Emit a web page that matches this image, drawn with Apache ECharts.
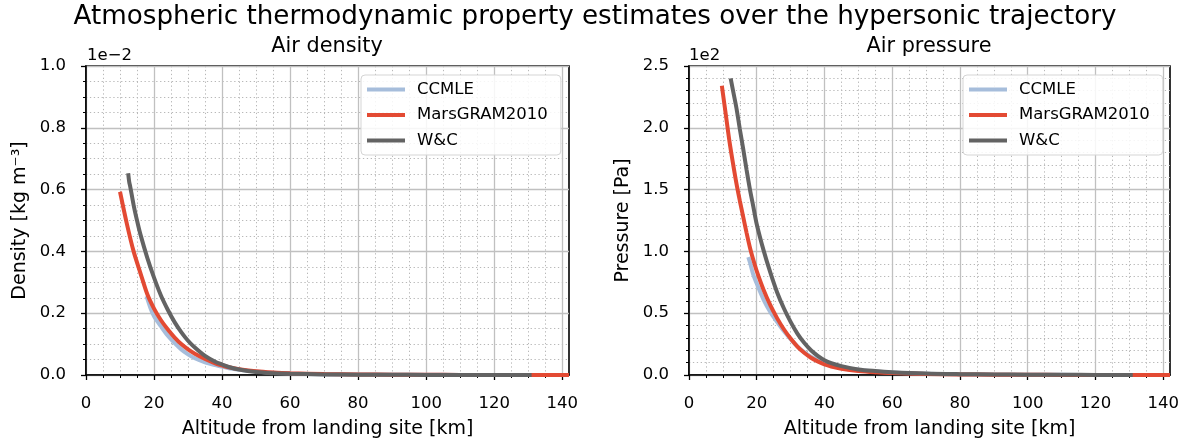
<!DOCTYPE html>
<html><head><meta charset="utf-8">
<script src="https://cdn.jsdelivr.net/npm/echarts@6/dist/echarts.min.js"></script>
<style>html,body{margin:0;padding:0;background:#fff}#c{width:1190px;height:444px}</style>
</head><body><div id="c"></div>
<script>
// ---- tick labels ----
const xMajorTicks = [0, 20, 40, 60, 80, 100, 120, 140];
const xMinorTicks = [5, 10, 15, 25, 30, 35, 45, 50, 55, 65, 70, 75, 85, 90, 95, 105, 110, 115, 125, 130, 135];
const seriesNames = ['CCMLE', 'MarsGRAM2010', 'W&C'];

// ---- Air density (x1e-2 kg m^-3) ----
const densCCMLEAlt = [17.8, 19, 20, 22, 24, 26, 28, 30, 32, 35, 38, 40, 42, 45, 50, 55, 60, 70, 80, 90, 100, 110, 120, 125];
const densCCMLE    = [0.255, 0.215, 0.19, 0.158, 0.128, 0.104, 0.083, 0.067, 0.054, 0.041, 0.032, 0.027, 0.022, 0.017, 0.011, 0.007, 0.005, 0.0025, 0.0015, 0.001, 0.0006, 0.0004, 0.0002, 0.0001];
const densMarsAlt  = [10, 12, 14, 16, 18, 20, 22, 24, 26, 28, 30, 32, 35, 38, 40, 42, 45, 50, 55, 60, 70, 80, 90, 100, 110, 120, 130, 142];
const densMars     = [0.593, 0.49, 0.40, 0.33, 0.262, 0.215, 0.178, 0.148, 0.122, 0.100, 0.083, 0.069, 0.052, 0.038, 0.031, 0.025, 0.019, 0.012, 0.008, 0.0055, 0.003, 0.002, 0.0012, 0.0007, 0.0004, 0.0002, 0.0001, 0.00005];
const densWCAlt    = [12.4, 12.7, 13, 14, 15, 16, 18, 20, 22, 24, 26, 28, 30, 32, 35, 38, 40, 42, 45, 50, 55, 60, 70, 80, 90, 100, 110, 120, 131];
const densWC       = [0.653, 0.625, 0.61, 0.55, 0.50, 0.455, 0.38, 0.315, 0.258, 0.212, 0.172, 0.139, 0.111, 0.089, 0.062, 0.043, 0.034, 0.026, 0.018, 0.010, 0.006, 0.004, 0.002, 0.001, 0.0006, 0.0003, 0.0002, 0.0001, 0.00005];

// ---- Air pressure (x1e2 Pa) ----
const presCCMLEAlt = [17.5, 18, 19, 20, 22, 24, 26, 28, 30, 32, 34, 36, 38, 40, 42, 45, 50, 55, 60, 70, 80, 90, 100, 110, 120, 125];
const presCCMLE    = [0.953, 0.91, 0.81, 0.74, 0.61, 0.51, 0.43, 0.355, 0.29, 0.232, 0.185, 0.148, 0.12, 0.098, 0.08, 0.063, 0.042, 0.028, 0.02, 0.01, 0.006, 0.0035, 0.002, 0.0012, 0.0007, 0.0005];
const presMarsAlt  = [9.7, 11, 12, 13, 14, 15, 16, 17, 18, 19, 20, 22, 24, 26, 28, 30, 32, 34, 36, 38, 40, 42, 45, 50, 55, 60, 70, 80, 90, 100, 110, 120, 130, 142];
const presMars     = [2.34, 2.08, 1.88, 1.71, 1.55, 1.41, 1.28, 1.15, 1.03, 0.93, 0.84, 0.69, 0.565, 0.46, 0.37, 0.295, 0.23, 0.18, 0.14, 0.11, 0.085, 0.068, 0.05, 0.032, 0.022, 0.016, 0.009, 0.005, 0.003, 0.0018, 0.001, 0.0006, 0.0003, 0.0002];
const presWCAlt    = [12.3, 13, 14, 15, 16, 17, 18, 19, 20, 22, 24, 26, 28, 30, 32, 34, 36, 38, 40, 42, 45, 50, 55, 60, 70, 80, 90, 100, 110, 120, 131];
const presWC       = [2.40, 2.30, 2.16, 1.99, 1.83, 1.66, 1.50, 1.36, 1.22, 1.01, 0.83, 0.67, 0.54, 0.43, 0.335, 0.26, 0.20, 0.155, 0.12, 0.096, 0.072, 0.045, 0.032, 0.023, 0.012, 0.007, 0.004, 0.0025, 0.0015, 0.001, 0.0005];

const colors = ['#a6bddb', '#e34a33', '#636363'];
const FONT = 'DejaVu Sans';
const zip = (a, b) => a.map((v, i) => [v, b[i]]);

const chart = echarts.init(document.getElementById('c'), null, {renderer: 'canvas'});

const MAJOR_GRID = {color: '#c0c0c0', width: 1.3};
const MINOR_GRID = {color: '#b8b8b8', width: 1, type: [1.3, 2.6]};

function majorX(grid) {
  return {
    gridIndex: grid, type: 'value', min: 0, max: 142, interval: 20, position: 'bottom',
    axisLine: {show: true, onZero: false, lineStyle: {color: '#000', width: 1.6}},
    axisTick: {show: true, length: 5, customValues: xMajorTicks, lineStyle: {color: '#000', width: 1.3}},
    axisLabel: {show: true, customValues: xMajorTicks, margin: 20, fontSize: 16.5, color: '#000', fontFamily: FONT},
    splitLine: {show: true, lineStyle: MAJOR_GRID},
    name: 'Altitude from landing site [km]', nameLocation: 'middle', nameGap: 45,
    nameTextStyle: {fontSize: 19, color: '#000', fontFamily: FONT}
  };
}
function minorX(grid) {
  return {
    gridIndex: grid, type: 'value', min: 0, max: 142, interval: 5, position: 'bottom',
    axisLine: {show: false},
    axisTick: {show: true, length: 3, customValues: xMinorTicks, lineStyle: {color: '#000', width: 1}},
    axisLabel: {show: false},
    splitLine: {show: true, lineStyle: MINOR_GRID}
  };
}
function yAx(grid, max, interval, minorSplit, name) {
  return {
    gridIndex: grid, type: 'value', min: 0, max: max, interval: interval,
    axisLine: {show: true, onZero: false, lineStyle: {color: '#000', width: 1.6}},
    axisTick: {show: true, length: 5, lineStyle: {color: '#000', width: 1.3}},
    minorTick: {show: true, splitNumber: minorSplit, length: 3, lineStyle: {color: '#000', width: 1}},
    axisLabel: {margin: 20, fontSize: 16.5, color: '#000', fontFamily: FONT, formatter: v => v.toFixed(1)},
    splitLine: {show: true, lineStyle: MAJOR_GRID},
    minorSplitLine: {show: true, lineStyle: MINOR_GRID},
    name: name, nameLocation: 'middle', nameGap: 56,
    nameTextStyle: {fontSize: 19, color: '#000', fontFamily: FONT}
  };
}
function line(name, xi, yi, data, color, z) {
  return {
    name: name, type: 'line', xAxisIndex: xi, yAxisIndex: yi, data: data,
    showSymbol: false, symbol: 'none', smooth: 0.3, clip: true, z: z,
    lineStyle: {color: color, width: 4, cap: 'butt'}, itemStyle: {color: color}
  };
}
function legend(left) {
  return {
    data: seriesNames, orient: 'vertical', left: left, top: 75,
    icon: 'rect', itemWidth: 38, itemHeight: 4, itemGap: 8.5,
    padding: [6, 13, 6, 6],
    backgroundColor: 'rgba(255,255,255,0.85)', borderColor: '#d5d5d5', borderWidth: 1, borderRadius: 4,
    textStyle: {fontSize: 16.5, color: '#000', fontFamily: FONT, padding: [0, 0, 0, 7]}
  };
}

chart.setOption({
  animation: false,
  backgroundColor: '#fff',
  title: [
    {text: 'Atmospheric thermodynamic property estimates over the hypersonic trajectory', left: 'center', top: 4, padding: 0,
      textStyle: {fontSize: 26.2, fontWeight: 'normal', color: '#000', fontFamily: FONT}},
    {text: 'Air density', left: 327, top: 36, padding: 0, textAlign: 'center',
      textStyle: {fontSize: 20.8, fontWeight: 'normal', color: '#000', fontFamily: FONT}},
    {text: 'Air pressure', left: 929, top: 36, padding: 0, textAlign: 'center',
      textStyle: {fontSize: 20.8, fontWeight: 'normal', color: '#000', fontFamily: FONT}},
    {text: '1e\u22122', left: 87, top: 47, padding: 0,
      textStyle: {fontSize: 16.5, fontWeight: 'normal', color: '#000', fontFamily: FONT}},
    {text: '1e2', left: 689, top: 47, padding: 0,
      textStyle: {fontSize: 16.5, fontWeight: 'normal', color: '#000', fontFamily: FONT}}
  ],
  grid: [
    {left: 86, right: 621, top: 66, bottom: 68, show: true, borderColor: '#000', borderWidth: 1.6, backgroundColor: 'transparent'},
    {left: 689, right: 20, top: 66, bottom: 68, show: true, borderColor: '#000', borderWidth: 1.6, backgroundColor: 'transparent'}
  ],
  legend: [legend(361), legend(963)],
  xAxis: [majorX(0), minorX(0), majorX(1), minorX(1)],
  yAxis: [yAx(0, 1.0, 0.2, 4, 'Density [kg m\u207B\u00B3]'), yAx(1, 2.5, 0.5, 5, 'Pressure [Pa]')],
  series: [
    line('CCMLE', 0, 0, zip(densCCMLEAlt, densCCMLE), colors[0], 2),
    line('MarsGRAM2010', 0, 0, zip(densMarsAlt, densMars), colors[1], 3),
    line('W&C', 0, 0, zip(densWCAlt, densWC), colors[2], 4),
    line('CCMLE', 2, 1, zip(presCCMLEAlt, presCCMLE), colors[0], 2),
    line('MarsGRAM2010', 2, 1, zip(presMarsAlt, presMars), colors[1], 3),
    line('W&C', 2, 1, zip(presWCAlt, presWC), colors[2], 4)
  ]
});
</script></body></html>
